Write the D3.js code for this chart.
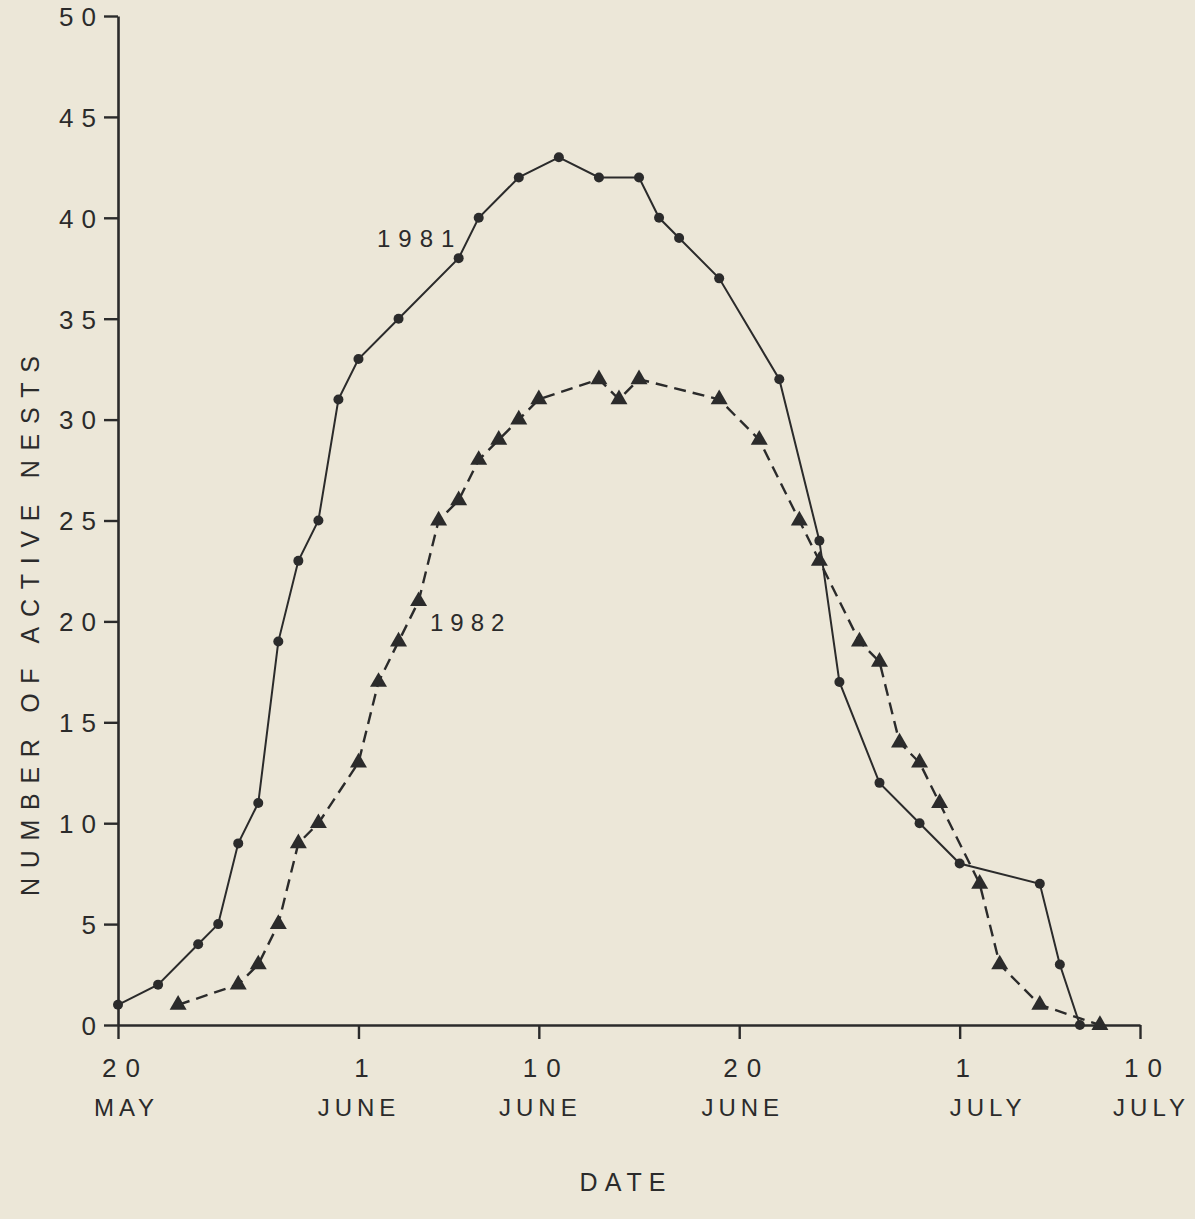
<!DOCTYPE html>
<html>
<head>
<meta charset="utf-8">
<script src="https://cdn.jsdelivr.net/npm/d3@7"></script>
<style>
  html, body { margin: 0; padding: 0; background: #ece7d8; }
  svg { display: block; }
  text { font-family: "Liberation Sans", "DejaVu Sans", sans-serif; fill: #2b2b2b; }
</style>
</head>
<body>
<svg id="chart" width="1195" height="1219"></svg>
<script>
// --- data (date = month-day, value = active nests) ---
const dates1981 = ["05-20","05-22","05-24","05-25","05-26","05-27","05-28","05-29","05-30","05-31",
  "06-01","06-03","06-06","06-07","06-09","06-11","06-13","06-15","06-16","06-17",
  "06-19","06-22","06-24","06-25","06-27","06-29","07-01","07-05","07-06","07-07"];
const nests1981 = [1,2,4,5,9,11,19,23,25,31,33,35,38,40,42,43,42,42,40,39,37,32,24,17,12,10,8,7,3,0];

const dates1982 = ["05-23","05-26","05-27","05-28","05-29","05-30","06-01","06-02","06-03","06-04",
  "06-05","06-06","06-07","06-08","06-09","06-10","06-13","06-14","06-15","06-19",
  "06-21","06-23","06-24","06-26","06-27","06-28","06-29","06-30","07-02","07-03","07-05","07-08"];
const nests1982 = [1,2,3,5,9,10,13,17,19,21,25,26,28,29,30,31,32,31,32,31,29,25,23,19,18,14,13,11,7,3,1,0];

const xTickDates = ["05-20","06-01","06-10","06-20","07-01","07-10"];
const xTickDays = ["20","1","10","20","1","10"];
const xTickMonths = ["MAY","JUNE","JUNE","JUNE","JULY","JULY"];
const yTicks = [0,5,10,15,20,25,30,35,40,45,50];

const parse = d3.timeParse("%m-%d");
const ink = "#2b2b2b";

const svg = d3.select("#chart");

const x = d3.scaleTime()
  .domain([parse("05-20"), parse("07-10")])
  .range([118, 1140]);

const y = d3.scaleLinear()
  .domain([0, 50])
  .range([1025, 16]);

const s1981 = dates1981.map((d, i) => ({date: parse(d), v: nests1981[i]}));
const s1982 = dates1982.map((d, i) => ({date: parse(d), v: nests1982[i]}));

// y axis
const yAxis = svg.append("g")
  .attr("transform", `translate(${x.range()[0]},0)`)
  .call(d3.axisLeft(y).tickValues(yTicks).tickSize(14).tickSizeOuter(0).tickFormat(d3.format("d")));
yAxis.select(".domain").attr("stroke", ink).attr("stroke-width", 2.6);
yAxis.selectAll(".tick line").attr("stroke", ink).attr("stroke-width", 2.4);
yAxis.selectAll(".tick text")
  .attr("x", -14)
  .attr("dy", "0.36em")
  .style("font-size", "26px")
  .style("letter-spacing", "8px")
  .attr("fill", ink);

// x axis
const xAxis = svg.append("g")
  .attr("transform", `translate(0,${y(0)})`)
  .call(d3.axisBottom(x).tickValues(xTickDates.map(parse)).tickSize(14).tickSizeOuter(0).tickFormat(""));
xAxis.select(".domain").attr("stroke", ink).attr("stroke-width", 2.6);
xAxis.selectAll(".tick line").attr("stroke", ink).attr("stroke-width", 2.4);

// two-line date labels under each tick (month words sit a little off-centre in the original)
const monthNudge = [5, -3, -2, 0, 25, 8];
xAxis.selectAll(".tick").each(function(d, i) {
  const t = d3.select(this);
  t.append("text")
    .attr("y", 52)
    .attr("x", 7)
    .attr("text-anchor", "middle")
    .style("font-size", "26px")
    .style("letter-spacing", "9px")
    .text(xTickDays[i]);
  t.append("text")
    .attr("y", 91)
    .attr("x", monthNudge[i] + 3)
    .attr("text-anchor", "middle")
    .style("font-size", "24px")
    .style("letter-spacing", "5px")
    .text(xTickMonths[i]);
});

// axis titles
svg.append("text")
  .attr("x", 626)
  .attr("y", 1191)
  .attr("text-anchor", "middle")
  .style("font-size", "25px")
  .style("letter-spacing", "7px")
  .text("DATE");

svg.append("text")
  .attr("transform", "translate(39,626) rotate(-90)")
  .attr("text-anchor", "middle")
  .attr("textLength", 540)
  .attr("lengthAdjust", "spacing")
  .style("font-size", "25px")
  .text("NUMBER  OF  ACTIVE  NESTS");

// series lines
const line = d3.line()
  .x(d => x(d.date))
  .y(d => y(d.v));

svg.append("path")
  .datum(s1981)
  .attr("fill", "none")
  .attr("stroke", ink)
  .attr("stroke-width", 2)
  .attr("d", line);

svg.append("path")
  .datum(s1982)
  .attr("fill", "none")
  .attr("stroke", ink)
  .attr("stroke-width", 2.4)
  .attr("stroke-dasharray", "12,7")
  .attr("d", line);

// markers
svg.append("g")
  .selectAll("circle")
  .data(s1981)
  .join("circle")
    .attr("cx", d => x(d.date))
    .attr("cy", d => y(d.v))
    .attr("r", 5)
    .attr("fill", ink);

svg.append("g")
  .selectAll("path")
  .data(s1982)
  .join("path")
    .attr("transform", d => `translate(${x(d.date)},${y(d.v)})`)
    .attr("d", d3.symbol(d3.symbolTriangle, 125))
    .attr("fill", ink);

// series labels
svg.append("text")
  .attr("x", 377)
  .attr("y", 247)
  .style("font-size", "24px")
  .style("letter-spacing", "8px")
  .text("1981");

svg.append("text")
  .attr("x", 430)
  .attr("y", 631)
  .style("font-size", "24px")
  .style("letter-spacing", "7px")
  .text("1982");
</script>
</body>
</html>
